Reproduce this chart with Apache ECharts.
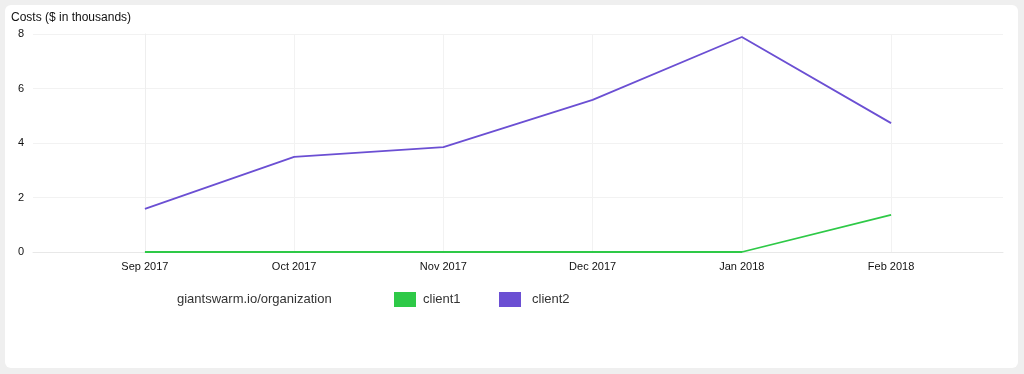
<!DOCTYPE html>
<html>
<head>
<meta charset="utf-8">
<script src="https://cdn.jsdelivr.net/npm/echarts@6/dist/echarts.min.js"></script>
<style>
html,body{margin:0;padding:0;background:#efefef;width:1024px;height:374px;overflow:hidden;}
#card{position:absolute;left:5px;top:5px;width:1013px;height:363px;background:#fff;border-radius:6px;}
#chart{position:absolute;left:0;top:0;width:1024px;height:374px;}
</style>
</head>
<body>
<div id="card"></div>
<div id="chart"></div>
<script>
const categories = ['Sep 2017','Oct 2017','Nov 2017','Dec 2017','Jan 2018','Feb 2018'];
const client1 = [0, 0, 0, 0, 0, 1.36];
const client2 = [1.58, 3.49, 3.85, 5.58, 7.89, 4.73];
const yTicks = [0, 2, 4, 6, 8];
const legendTitle = 'giantswarm.io/organization';
const yTitle = 'Costs ($ in thousands)';

const idx = categories.map((c, i) => i);
const toPairs = arr => arr.map((v, i) => [i, v]);

const legendBase = { top: 287, icon: 'rect', itemWidth: 22, itemHeight: 15 };

const chart = echarts.init(document.getElementById('chart'));
chart.setOption({
  backgroundColor: 'transparent',
  animation: false,
  textStyle: { fontFamily: 'Liberation Sans, Arial, sans-serif' },
  title: {
    text: yTitle, left: 6, top: 7,
    textStyle: { fontSize: 12, fontWeight: 'normal', color: '#111' }
  },
  graphic: [{
    type: 'text', left: 177, top: 293,
    style: { text: legendTitle, fontSize: 13, fill: '#333', fontFamily: 'Liberation Sans, Arial, sans-serif' }
  }],
  legend: [
    Object.assign({}, legendBase, { left: 389, data: ['client1'], textStyle: { fontSize: 13, color: '#333', padding: [0, 0, 0, 2] } }),
    Object.assign({}, legendBase, { left: 494, data: ['client2'], textStyle: { fontSize: 13, color: '#333', padding: [0, 0, 0, 6] } })
  ],
  grid: { left: 33, right: 21, top: 34, bottom: 122, containLabel: false },
  xAxis: {
    type: 'value', min: -0.75, max: 5.75,
    axisLine: { show: true, lineStyle: { color: '#e8e8e8' } },
    axisTick: { show: false, customValues: idx },
    axisLabel: { customValues: idx, formatter: v => categories[Math.round(v)], fontSize: 11, color: '#111', margin: 9 },
    splitLine: { show: true, lineStyle: { color: '#f2f2f2' } }
  },
  yAxis: {
    type: 'value', min: 0, max: 8, interval: 2,
    axisLine: { show: true, lineStyle: { color: '#eeeeee' } },
    axisTick: { show: false },
    axisLabel: { fontSize: 11, color: '#111', margin: 9 },
    splitLine: { show: true, lineStyle: { color: '#f2f2f2' } }
  },
  series: [
    { name: 'client1', type: 'line', data: toPairs(client1), showSymbol: false, color: '#2ec947', lineStyle: { width: 1.8, color: '#2ec947' } },
    { name: 'client2', type: 'line', data: toPairs(client2), showSymbol: false, color: '#6b4fd3', lineStyle: { width: 1.8, color: '#6b4fd3' } }
  ]
});
</script>
</body>
</html>
